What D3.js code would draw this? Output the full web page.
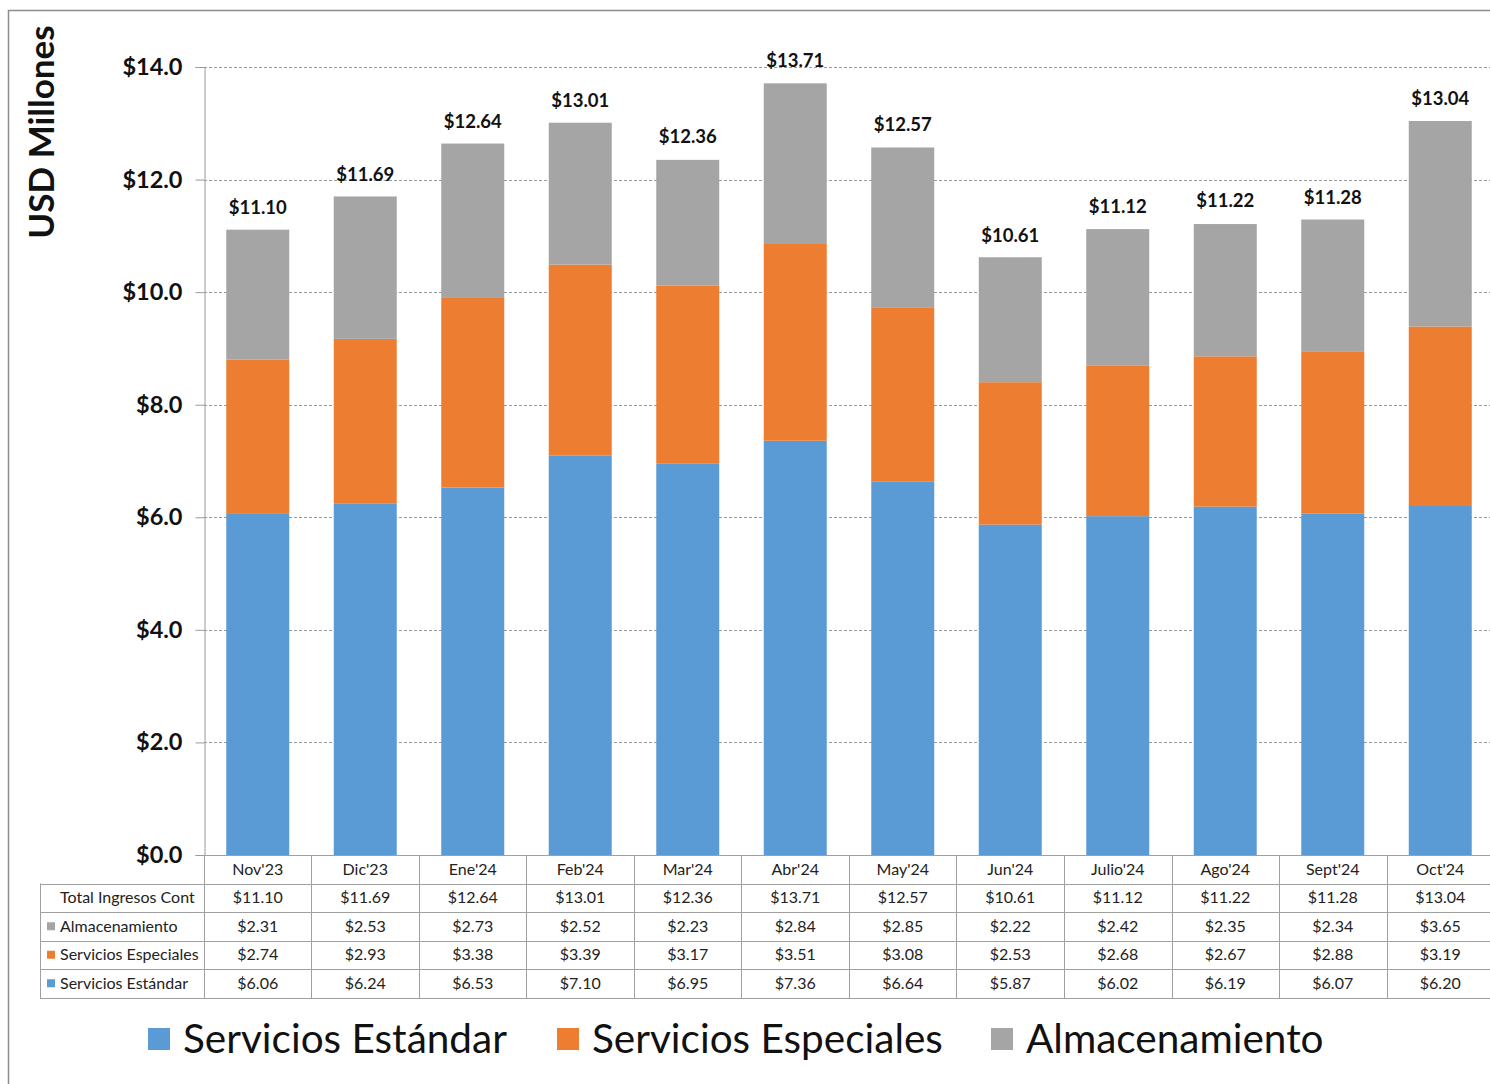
<!DOCTYPE html>
<html><head><meta charset="utf-8">
<script src="https://cdn.jsdelivr.net/npm/d3@7"></script>
<style>body{margin:0;background:#fff}svg{display:block}</style>
</head><body>
<script>
const months = ["Nov'23","Dic'23","Ene'24","Feb'24","Mar'24","Abr'24","May'24","Jun'24","Julio'24","Ago'24","Sept'24","Oct'24"];
const estandar = [6.06,6.24,6.53,7.10,6.95,7.36,6.64,5.87,6.02,6.19,6.07,6.20];
const especiales = [2.74,2.93,3.38,3.39,3.17,3.51,3.08,2.53,2.68,2.67,2.88,3.19];
const almacen = [2.31,2.53,2.73,2.52,2.23,2.84,2.85,2.22,2.42,2.35,2.34,3.65];
const totals = [11.10,11.69,12.64,13.01,12.36,13.71,12.57,10.61,11.12,11.22,11.28,13.04];
const yTicks = [0,2,4,6,8,10,12,14];
const seriesNames = ["Servicios Estándar","Servicios Especiales","Almacenamiento"];
const colors = ["#5B9BD5","#ED7D31","#A5A5A5"];

const W=1490,H=1084, FONT="Lato, 'Open Sans', sans-serif";
const svg=d3.select("body").append("svg").attr("width",W).attr("height",H).style("font-family",FONT);

const x=d3.scaleBand().domain(months).range([204,1494]).paddingInner(0.414).paddingOuter(0.207);
const y=d3.scaleLinear().domain([0,14]).range([855,67]);

// frame
svg.append("path").attr("d","M8.5,1084V10.5H1490").attr("fill","none").attr("stroke","#8c8c8c").attr("stroke-width",1.5);

// gridlines
svg.append("g").selectAll("line").data(yTicks.filter(d=>d>0)).join("line")
 .attr("x1",204).attr("x2",1490).attr("y1",d=>Math.round(y(d))+0.5).attr("y2",d=>Math.round(y(d))+0.5)
 .attr("stroke","#9a9a9a").attr("stroke-dasharray","3,2").attr("stroke-width",1);

// y axis
const ya=svg.append("g").attr("transform","translate(204.5,0)")
 .call(d3.axisLeft(y).tickValues(yTicks).tickSize(9).tickPadding(13).tickFormat(d=>"$"+d3.format(".1f")(d)));
ya.select(".domain").attr("stroke","#9a9a9a");
ya.selectAll(".tick line").attr("stroke","#9a9a9a");
ya.selectAll(".tick text").attr("font-size",23.5).attr("font-weight","bold").attr("fill","#111").style("font-family",FONT);

// y title
svg.append("text").attr("transform","translate(54,132) rotate(-90)").attr("text-anchor","middle")
 .attr("font-size",35).attr("font-weight","bold").attr("fill","#111").text("USD Millones");

// stacked bars
const rows=months.map((m,i)=>({m,est:estandar[i],esp:especiales[i],alm:almacen[i]}));
const stack=d3.stack().keys(["est","esp","alm"])(rows);
svg.append("g").selectAll("g").data(stack).join("g").attr("fill",(d,i)=>colors[i])
 .selectAll("rect").data(d=>d).join("rect")
 .attr("x",d=>x(d.data.m)).attr("width",x.bandwidth())
 .attr("y",d=>y(d[1])).attr("height",d=>y(d[0])-y(d[1]));

// total labels
svg.append("g").selectAll("text").data(months).join("text")
 .attr("x",d=>x(d)+x.bandwidth()/2).attr("y",(d,i)=>y(totals[i])-16)
 .attr("text-anchor","middle").attr("font-size",18.5).attr("font-weight","bold").attr("fill","#111")
 .text((d,i)=>"$"+d3.format(".2f")(totals[i]));

// data table
const rowY=[855,883.5,912,940.5,969,997.5];
const tg=svg.append("g");
const lc="#a0a0a0";
tg.append("line").attr("x1",204).attr("x2",1490).attr("y1",855.5).attr("y2",855.5).attr("stroke",lc);
rowY.slice(1).forEach(yy=>tg.append("line").attr("x1",40).attr("x2",1490).attr("y1",Math.round(yy)+0.5).attr("y2",Math.round(yy)+0.5).attr("stroke",lc));
const bounds=[204].concat(months.map(m=>x(m)+x.bandwidth()+ (x.step()-x.bandwidth())/2));
bounds.forEach(bx=>tg.append("line").attr("x1",Math.round(bx)+0.5).attr("x2",Math.round(bx)+0.5).attr("y1",855).attr("y2",998).attr("stroke",lc));
tg.append("line").attr("x1",40.5).attr("x2",40.5).attr("y1",883.5).attr("y2",998).attr("stroke",lc);

tg.selectAll(".mh").data(months).join("text").attr("class","mh")
 .attr("x",d=>x(d)+x.bandwidth()/2).attr("y",875).attr("text-anchor","middle").attr("font-size",16).attr("fill","#222").text(d=>d);

const tableRows=[
 {label:"Total Ingresos Cont",vals:totals,color:null},
 {label:"Almacenamiento",vals:almacen,color:colors[2]},
 {label:"Servicios Especiales",vals:especiales,color:colors[1]},
 {label:"Servicios Estándar",vals:estandar,color:colors[0]}
];
tableRows.forEach((r,ri)=>{
 const cy=(rowY[ri+1]+rowY[ri+2])/2;
 if(r.color) tg.append("rect").attr("x",47).attr("y",cy-4).attr("width",8).attr("height",8).attr("fill",r.color);
 tg.append("text").attr("x",60).attr("y",cy+5.5).attr("font-size",16).attr("fill","#222").text(r.label);
 tg.selectAll(null).data(months).join("text").attr("x",d=>x(d)+x.bandwidth()/2).attr("y",cy+5.5)
  .attr("text-anchor","middle").attr("font-size",16).attr("fill","#222").text((d,i)=>"$"+d3.format(".2f")(r.vals[i]));
});

// legend
const legX=[148,557,991];
const lg=svg.append("g");
seriesNames.forEach((s,i)=>{
 lg.append("rect").attr("x",legX[i]).attr("y",1028).attr("width",22).attr("height",22).attr("fill",colors[i]);
 lg.append("text").attr("x",legX[i]+35).attr("y",1053).attr("font-size",40.5).attr("fill","#111").text(s);
});
</script>
</body></html>
